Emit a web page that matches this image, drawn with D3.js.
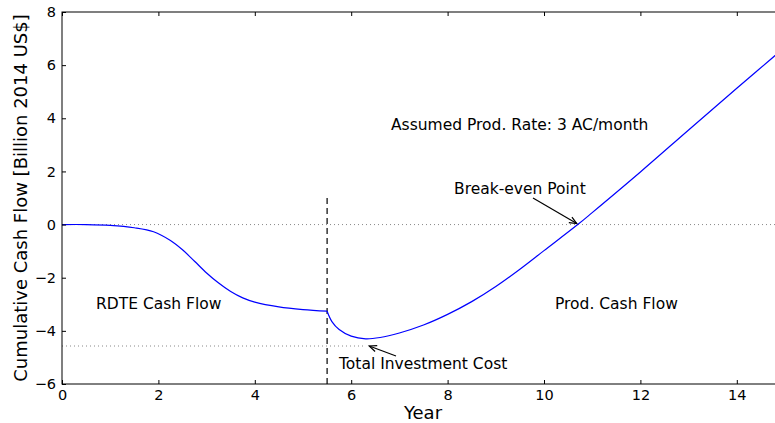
<!DOCTYPE html>
<html>
<head>
<meta charset="utf-8">
<script src="https://cdn.jsdelivr.net/npm/d3@7"></script>
<style>
  html, body { margin: 0; padding: 0; background: #fff; }
  svg { display: block; font-family: "DejaVu Sans", sans-serif; }
</style>
</head>
<body>
<svg id="chart" width="775" height="423"></svg>
<script>
// Cumulative cash flow, billion 2014 US$, by year
const rdteYears  = [0, 0.5, 1.0, 1.5, 1.9, 2.25, 2.5, 2.75, 3.0, 3.25, 3.5, 3.75, 4.0, 4.5, 5.0, 5.5];
const rdteValues = [0, 0, -0.03, -0.12, -0.27, -0.6, -0.95, -1.38, -1.82, -2.2, -2.52, -2.76, -2.92, -3.1, -3.2, -3.26];

const prodYears  = [5.5, 5.6, 5.75, 6.0, 6.3, 6.6, 7.0, 7.5, 8.0, 8.5, 9.0, 9.5, 10.0, 10.7, 11.0, 12.0, 13.0, 14.0, 15.0];
const prodValues = [-3.26, -3.65, -3.95, -4.2, -4.3, -4.25, -4.08, -3.78, -3.38, -2.9, -2.33, -1.68, -0.98, 0.0, 0.45, 1.98, 3.56, 5.13, 6.68];

const xTicks = [0, 2, 4, 6, 8, 10, 12, 14];
const yTicks = [-6, -4, -2, 0, 2, 4, 6, 8];

const productionStart = 5.5;      // dashed marker
const dashedTop = 1.0;
const investmentCost = -4.57;     // dotted level
const investmentEnd = 6.25;
const breakEven = [10.7, 0];

const svg = d3.select("#chart");
const plotLeft = 62, plotTop = 12, plotBottom = 384;

const x = d3.scaleLinear().domain([0, 15]).range([plotLeft, plotLeft + 15 * 48.2]);
const y = d3.scaleLinear().domain([-6, 8]).range([plotBottom, plotTop]);

const defs = svg.append("defs");
defs.append("clipPath").attr("id", "plotclip")
  .append("rect").attr("x", x(0)).attr("y", y(8)).attr("width", x(15) - x(0)).attr("height", y(-6) - y(8));

const plot = svg.append("g").attr("clip-path", "url(#plotclip)");

// reference lines
plot.append("line")
  .attr("x1", x(0)).attr("x2", x(15)).attr("y1", y(0)).attr("y2", y(0))
  .attr("stroke", "#888").attr("stroke-width", 1).attr("stroke-dasharray", "1,3");
plot.append("line")
  .attr("x1", x(0)).attr("x2", x(investmentEnd)).attr("y1", y(investmentCost)).attr("y2", y(investmentCost))
  .attr("stroke", "#888").attr("stroke-width", 1).attr("stroke-dasharray", "1,3");
plot.append("line")
  .attr("x1", x(productionStart)).attr("x2", x(productionStart))
  .attr("y1", y(-6)).attr("y2", y(dashedTop))
  .attr("stroke", "#000").attr("stroke-width", 1.2).attr("stroke-dasharray", "6,4");

// cash flow curve
const line = d3.line().x(d => x(d[0])).y(d => y(d[1])).curve(d3.curveCatmullRom.alpha(0.5));
const rdte = rdteYears.map((v, i) => [v, rdteValues[i]]);
const prod = prodYears.map((v, i) => [v, prodValues[i]]);
[rdte, prod].forEach(series => {
  plot.append("path").datum(series)
    .attr("d", line)
    .attr("fill", "none").attr("stroke", "#0000ff").attr("stroke-width", 1.2);
});

// axes: frame with inward ticks on all sides
const tickLen = 4;
const frame = svg.append("g");
frame.append("rect")
  .attr("x", x(0)).attr("y", y(8)).attr("width", x(15) - x(0)).attr("height", y(-6) - y(8))
  .attr("fill", "none").attr("stroke", "#000").attr("stroke-width", 1);

const xAxisB = d3.axisBottom(x).tickValues(xTicks).tickSize(-tickLen).tickPadding(6).tickFormat(d3.format("d"));
const xAxisT = d3.axisTop(x).tickValues(xTicks).tickSize(-tickLen).tickFormat("");
const yAxisL = d3.axisLeft(y).tickValues(yTicks).tickSize(-tickLen).tickPadding(6).tickFormat(d3.format("d"));

function style(g) {
  g.select(".domain").remove();
  g.selectAll(".tick line").attr("stroke", "#000");
  g.selectAll(".tick text").attr("fill", "#000").attr("font-size", 14.5).attr("font-family", "DejaVu Sans, sans-serif");
}
svg.append("g").attr("transform", `translate(0,${plotBottom})`).call(xAxisB).call(style);
svg.append("g").attr("transform", `translate(0,${plotTop})`).call(xAxisT).call(style);
svg.append("g").attr("transform", `translate(${plotLeft},0)`).call(yAxisL).call(style);

// axis titles
svg.append("text")
  .attr("x", 423).attr("y", 419).attr("text-anchor", "middle")
  .attr("font-size", 18).text("Year");
svg.append("text")
  .attr("transform", `translate(27,${(plotTop + plotBottom) / 2}) rotate(-90)`)
  .attr("text-anchor", "middle").attr("font-size", 18)
  .text("Cumulative Cash Flow [Billion 2014 US$]");

// annotations
const ann = svg.append("g").attr("font-size", 15.5).attr("fill", "#000");
ann.append("text").attr("x", 391).attr("y", 130).text("Assumed Prod. Rate: 3 AC/month");
ann.append("text").attr("x", 96).attr("y", 309).text("RDTE Cash Flow");
ann.append("text").attr("x", 555).attr("y", 309).text("Prod. Cash Flow");
ann.append("text").attr("x", 454).attr("y", 194).text("Break-even Point");
ann.append("text").attr("x", 339).attr("y", 369).text("Total Investment Cost");

function arrow(x1, y1, x2, y2) {
  const g = svg.append("g").attr("stroke", "#000").attr("stroke-width", 1.2).attr("fill", "none");
  g.append("line").attr("x1", x1).attr("y1", y1).attr("x2", x2).attr("y2", y2);
  const ang = Math.atan2(y2 - y1, x2 - x1);
  const L = 8, spread = 0.4;
  const p1 = [x2 - L * Math.cos(ang - spread), y2 - L * Math.sin(ang - spread)];
  const p2 = [x2 - L * Math.cos(ang + spread), y2 - L * Math.sin(ang + spread)];
  g.append("path").attr("d", `M${p1[0]},${p1[1]}L${x2},${y2}L${p2[0]},${p2[1]}`);
}
arrow(533, 198, x(breakEven[0]) - 1, y(breakEven[1]) - 1);
arrow(396, 356, x(investmentEnd) + 6, y(investmentCost));
</script>
</body>
</html>
